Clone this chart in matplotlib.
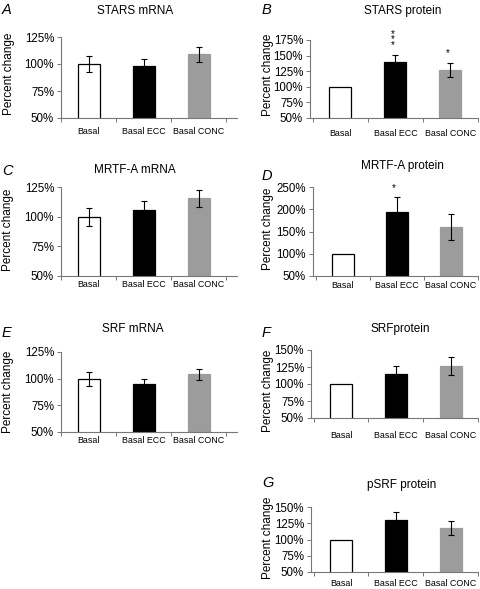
import matplotlib.pyplot as plt

plt.rcParams['font.family'] = ['Liberation Sans', 'DejaVu Sans']

categories = ['Basal', 'Basal ECC', 'Basal CONC']
bar_colors = ['white', 'black', '#9c9c9c']
edge_colors = ['black', 'black', '#9c9c9c']

stars_mrna = [100, 98.5, 109]
stars_mrna_err = [7.5, 6.5, 7]
stars_protein = [100, 140.5, 127]
stars_protein_err = [0, 10.5, 10.5]
stars_protein_sig = ['', '*\n*\n*', '*']
mrtfa_mrna = [100, 106, 115.5]
mrtfa_mrna_err = [7.5, 7, 7]
mrtfa_protein = [100, 194.5, 159.5]
mrtfa_protein_err = [0, 32.5, 29]
mrtfa_protein_sig = ['', '*', '']
srf_mrna = [100, 95, 104]
srf_mrna_err = [6.5, 4.5, 5.5]
srf_protein = [100, 114, 126.5]
srf_protein_err = [0, 12, 13.5]
psrf_protein = [100, 130.5, 118]
psrf_protein_err = [0, 12.5, 10.5]

W, H = 480, 589
fig = plt.figure(figsize=(W / 100, H / 100), dpi=100)


def panel(vals, errs, yticks, box, xpad, sig=None, sig_gap=0.0):
    left, top, right, bottom = box
    ax = fig.add_axes([left / W, 1 - bottom / H, (right - left) / W, (bottom - top) / H])
    x = range(len(categories))
    ax.bar(x, vals, width=0.4, color=bar_colors, edgecolor=edge_colors,
           linewidth=0.9, zorder=2)
    for i in x:
        if errs[i] > 0:
            ax.errorbar(i, vals[i], yerr=errs[i], color='black', capsize=2.2,
                        elinewidth=0.8, capthick=0.8, zorder=3)
        if sig and sig[i]:
            ax.text(i - 0.05, vals[i] + errs[i] + sig_gap, sig[i], ha='center',
                    va='bottom', fontsize=7, linespacing=0.45)
    ax.set_ylim(yticks[0], yticks[-1])
    ax.set_yticks(yticks)
    ax.set_yticklabels([f'{t}%' for t in yticks], fontsize=8.3)
    ax.set_xticks(list(x))
    ax.set_xticklabels(categories, fontsize=6.4)
    ax.set_xticks([-0.5, 0.5, 1.5, 2.5], minor=True)
    ax.tick_params(axis='x', which='major', length=0, pad=xpad)
    ax.tick_params(axis='x', which='minor', length=3, color='#777777', width=0.7)
    ax.tick_params(axis='y', length=3, color='#777777', width=0.7, pad=2)
    for s in ['top', 'right']:
        ax.spines[s].set_visible(False)
    for s in ['left', 'bottom']:
        ax.spines[s].set_color('#777777')
        ax.spines[s].set_linewidth(0.8)
    return ax


def labels(letter, title, txy, lxy, yl):
    fig.text(txy[0] / W, 1 - txy[1] / H, title, ha='center', va='center', fontsize=8.5)
    fig.text(lxy[0] / W, 1 - lxy[1] / H, letter, ha='left', va='center',
             fontsize=10.5, style='italic')
    fig.text(yl[0] / W, 1 - yl[1] / H, 'Percent change', rotation=90,
             ha='center', va='center', fontsize=8.5)


# left column
for letter, title, vals, errs, yt, box, txy, lxy, yl, pad in [
    ('A', 'STARS mRNA', stars_mrna, stars_mrna_err, [50, 75, 100, 125],
     (61, 37, 237, 118), (135, 11), (2, 10), (9, 74), 6.5),
    ('C', 'MRTF-A mRNA', mrtfa_mrna, mrtfa_mrna_err, [50, 75, 100, 125],
     (61, 187, 237, 276), (135, 170), (2, 171), (8, 230), 3),
    ('E', 'SRF mRNA', srf_mrna, srf_mrna_err, [50, 75, 100, 125],
     (61, 352, 237, 432), (133, 329), (2, 333), (8, 392), 3),
]:
    ax = panel(vals, errs, yt, box, pad)
    ax.set_xlim(-0.5, 2.7)
    labels(letter, title, txy, lxy, yl)

# right column
for letter, title, vals, errs, yt, box, txy, lxy, yl, pad, sig, gap in [
    ('B', 'STARS protein', stars_protein, stars_protein_err, [50, 75, 100, 125, 150, 175],
     (310, 40, 478, 118), (403, 11), (262, 10), (268, 75), 8, stars_protein_sig, 8),
    ('D', 'MRTF-A protein', mrtfa_protein, mrtfa_protein_err, [50, 100, 150, 200, 250],
     (313, 187, 478, 276), (402, 166), (262, 176), (268, 229), 3.6, mrtfa_protein_sig, 10),
    ('F', 'SRFprotein', srf_protein, srf_protein_err, [50, 75, 100, 125, 150],
     (311, 350, 478, 418), (400, 329), (262, 333), (268, 391), 9.4, None, 0),
    ('G', 'pSRF protein', psrf_protein, psrf_protein_err, [50, 75, 100, 125, 150],
     (311, 507, 478, 572), (402, 485), (262, 483), (268, 538), 4.8, None, 0),
]:
    ax = panel(vals, errs, yt, box, pad, sig, gap)
    ax.set_xlim(-0.55, 2.5)
    labels(letter, title, txy, lxy, yl)

fig.savefig('out.png', dpi=100, facecolor='white')
